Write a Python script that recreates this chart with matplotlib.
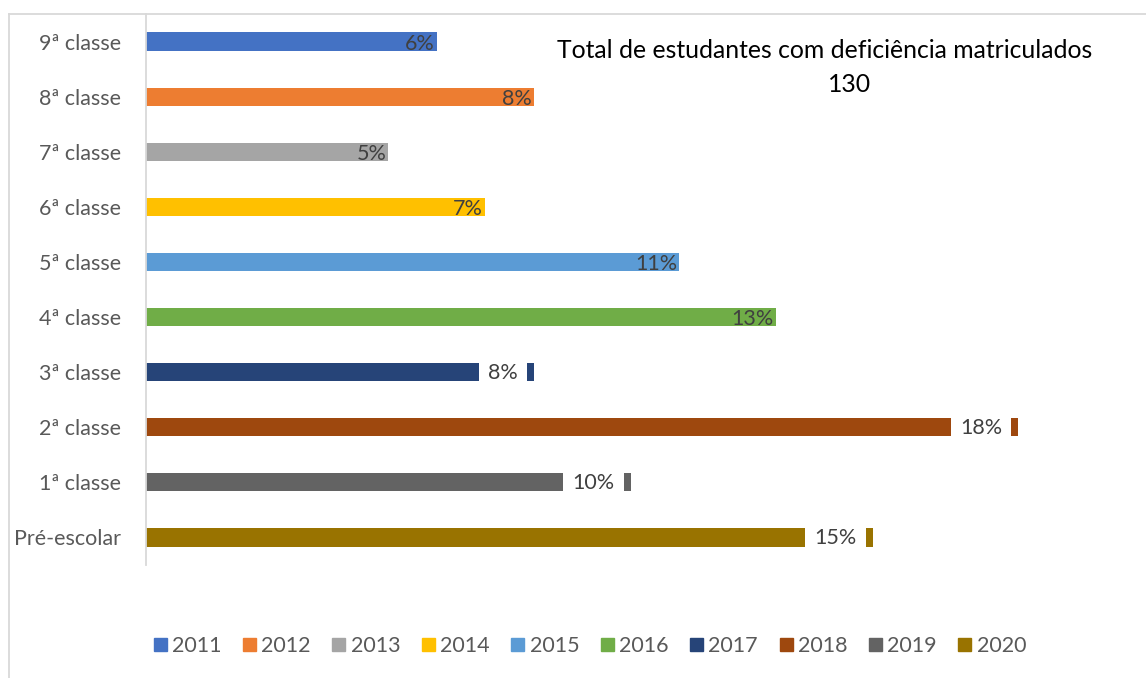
import matplotlib.pyplot as plt
from matplotlib.lines import Line2D
from matplotlib.patches import Patch

plt.rcParams['font.family'] = ['Lato', 'DejaVu Sans']

# categorias (de cima para baixo) e percentagens
classes = ['9ª classe', '8ª classe', '7ª classe', '6ª classe', '5ª classe',
           '4ª classe', '3ª classe', '2ª classe', '1ª classe', 'Pré-escolar']
anos = ['2011', '2012', '2013', '2014', '2015',
        '2016', '2017', '2018', '2019', '2020']
percent = [6, 8, 5, 7, 11, 13, 8, 18, 10, 15]
total = 130

cores = ['#4472C4', '#ED7D31', '#A5A5A5', '#FFC000', '#5B9BD5',
         '#70AD47', '#264478', '#9E480E', '#636363', '#997300']
# rótulos com fundo branco (como no original)
com_caixa = ['3ª classe', '2ª classe', '1ª classe', 'Pré-escolar']

W, H = 1146, 678
fig = plt.figure(figsize=(W / 100, H / 100), dpi=100)
ax = fig.add_axes([146 / W, 1 - 565 / H, (1115 - 146) / W, (565 - 14) / H])

ypos = list(range(len(classes)))[::-1]
for y, c, p, cor in zip(ypos, classes, percent, cores):
    ax.barh(y, p, height=0.33, color=cor)
    if c in com_caixa:
        ax.annotate(f'{p}%', xy=(p, y), xytext=(-16, -1), textcoords='offset pixels',
                    ha='right', va='center', fontsize=15.5, color='#404040',
                    bbox=dict(boxstyle='square,pad=0.42', fc='white', ec='none'))
    else:
        ax.annotate(f'{p}%', xy=(p, y), xytext=(-2, -2), textcoords='offset pixels',
                    ha='right', va='center', fontsize=15.5, color='#404040')

ax.set_xlim(0, 20)
ax.set_ylim(-0.5, len(classes) - 0.5)
ax.set_yticks(ypos)
ax.set_yticklabels(classes, fontsize=15.5, color='#595959')
ax.tick_params(axis='y', length=0, pad=18)
ax.set_xticks([])
for s in ['top', 'right', 'bottom']:
    ax.spines[s].set_visible(False)
ax.spines['left'].set_color('#d9d9d9')
ax.spines['left'].set_linewidth(1.3)

fig.text(825 / W, 1 - 50 / H, 'Total de estudantes com deficiência matriculados',
         ha='center', va='center', fontsize=17.8, color='black')
fig.text(849 / W, 1 - 84 / H, str(total), ha='center', va='center',
         fontsize=17.8, color='black')

# moldura do gráfico
fig.add_artist(Line2D([9 / W, 1], [1 - 14 / H, 1 - 14 / H], color='#d9d9d9', lw=1.3))
fig.add_artist(Line2D([9 / W, 9 / W], [0, 1 - 14 / H], color='#d9d9d9', lw=1.3))

handles = [Patch(color=c, label=a) for a, c in zip(anos, cores)]
leg = fig.legend(handles=handles, loc='center', bbox_to_anchor=(590 / W, 1 - 646 / H),
                 ncol=10, frameon=False, fontsize=15.5, handlelength=0.6, handleheight=0.6,
                 handletextpad=0.25, columnspacing=1.0)
for t in leg.get_texts():
    t.set_color('#595959')

fig.savefig('out.png', dpi=100)
